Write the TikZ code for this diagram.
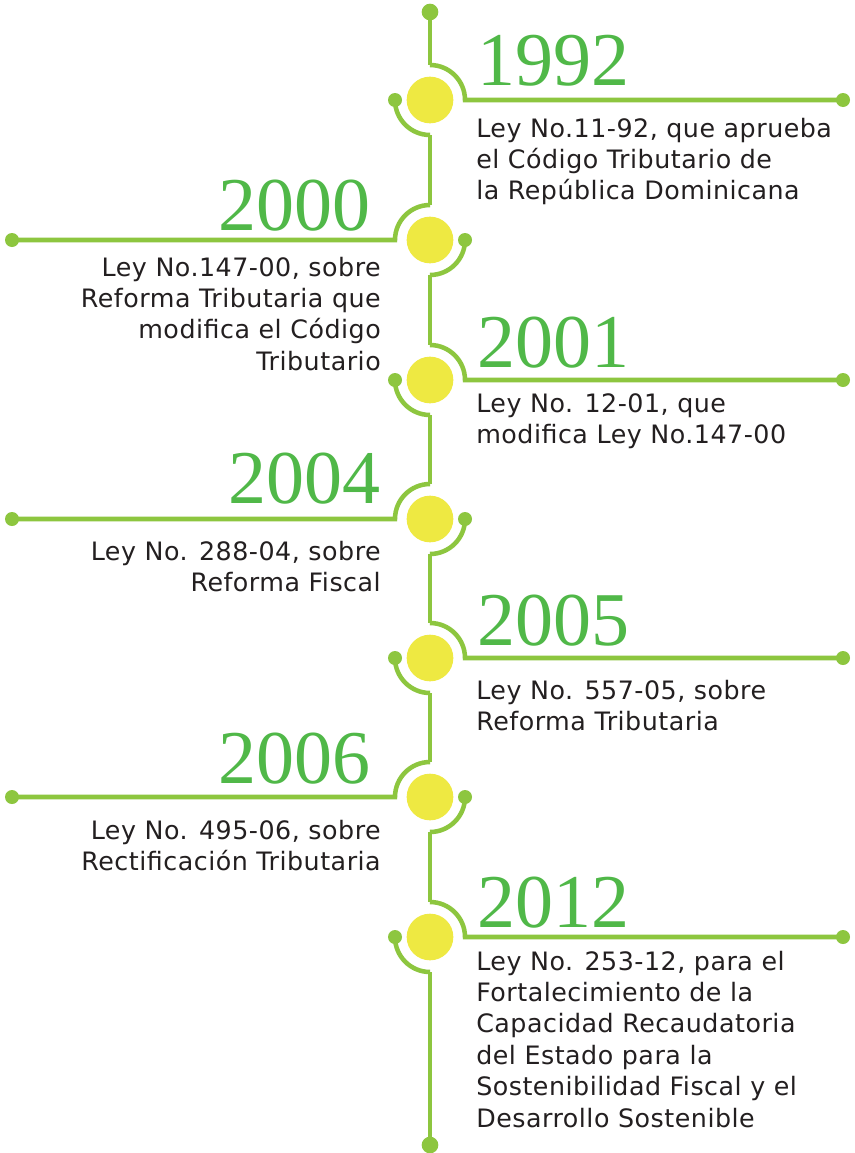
\documentclass[tikz,border=0pt]{standalone}
\usepackage{fontspec}
\newfontfamily\bodyfont[LetterSpace=2]{DejaVu Sans}
\newfontfamily\yearfont{Liberation Serif}
\definecolor{lineg}{RGB}{141,198,63}
\definecolor{yearg}{RGB}{80,184,72}
\definecolor{yel}{RGB}{238,233,66}
\definecolor{txt}{RGB}{35,31,32}
\newcommand\LLines[1]{\vtop{\baselineskip=23.6pt\halign{##\hfil\cr#1\crcr}}}
\newcommand\RLines[1]{\vtop{\baselineskip=23.6pt\halign{\hfil##\cr#1\crcr}}}
\tikzset{
  tl/.style={draw=lineg, line width=3.4pt},
  hub/.style={circle, fill=yel, minimum size=35pt, inner sep=0pt},
  tdot/.style={circle, fill=lineg, minimum size=10.5pt, inner sep=0pt},
  enddot/.style={tdot, minimum size=12.5pt},
  year/.style={text=yearg, font=\yearfont\fontsize{57}{57}\selectfont, inner sep=0pt},
  desc/.style={text=txt, font=\bodyfont\fontsize{19}{22}\selectfont, inner sep=0pt}
}
% right-hand event: name, y
\newcommand\evRight[2]{%
  \node[hub] (#1) at (430,#2) {};
  \coordinate (#1n) at (430,#2-35);
  \coordinate (#1s) at (430,#2+35);
  \node[tdot] (#1a) at (395,#2) {};
  \node[tdot] (#1b) at (843,#2) {};
  \draw[tl] (#1n) arc[start angle=-90,end angle=0,radius=35] -- (#1b.center);
  \draw[tl] (#1a.center) arc[start angle=180,end angle=90,radius=35];
}
% left-hand event: name, y
\newcommand\evLeft[2]{%
  \node[hub] (#1) at (430,#2) {};
  \coordinate (#1n) at (430,#2-35);
  \coordinate (#1s) at (430,#2+35);
  \node[tdot] (#1a) at (465,#2) {};
  \node[tdot] (#1b) at (12,#2) {};
  \draw[tl] (#1n) arc[start angle=-90,end angle=-180,radius=35] -- (#1b.center);
  \draw[tl] (#1a.center) arc[start angle=0,end angle=90,radius=35];
}
\begin{document}
\begin{tikzpicture}[x=0.75pt,y=-0.75pt]
\useasboundingbox (0,0) rectangle (855,1153);
\fill[white] (0,0) rectangle (855,1153);

\node[enddot] (top) at (430,12) {};
\node[enddot] (bot) at (430,1145) {};

\evRight{e1}{100}
\evLeft{e2}{240}
\evRight{e3}{380}
\evLeft{e4}{519}
\evRight{e5}{658}
\evLeft{e6}{797}
\evRight{e7}{937}

\draw[tl] (top.center) -- (e1n);
\draw[tl] (e1s) -- (e2n);
\draw[tl] (e2s) -- (e3n);
\draw[tl] (e3s) -- (e4n);
\draw[tl] (e4s) -- (e5n);
\draw[tl] (e5s) -- (e6n);
\draw[tl] (e6s) -- (e7n);
\draw[tl] (e7s) -- (bot.center);

\node[year, anchor=base west] (y1) at (477,85) {1992};
\node[year, anchor=base east] (y2) at (371,230) {2000};
\node[year, anchor=base west] (y3) at (477,367) {2001};
\node[year, anchor=base east] (y4) at (381,503) {2004};
\node[year, anchor=base west] (y5) at (477,645) {2005};
\node[year, anchor=base east] (y6) at (371,783) {2006};
\node[year, anchor=base west] (y7) at (477,927) {2012};

\node[desc, anchor=base west] (t1) at (476,137) {\LLines{Ley No.11-92, que aprueba\cr el Código Tributario de\cr la República Dominicana}};
\node[desc, anchor=base east] (t2) at (381,276) {\RLines{Ley No.147-00, sobre\cr Reforma Tributaria que\cr modifica el Código\cr Tributario}};
\node[desc, anchor=base west] (t3) at (476,412) {\LLines{Ley No. 12-01, que\cr modifica Ley No.147-00}};
\node[desc, anchor=base east] (t4) at (381,560) {\RLines{Ley No. 288-04, sobre\cr Reforma Fiscal}};
\node[desc, anchor=base west] (t5) at (476,699) {\LLines{Ley No. 557-05, sobre\cr Reforma Tributaria}};
\node[desc, anchor=base east] (t6) at (381,839) {\RLines{Ley No. 495-06, sobre\cr Rectificación Tributaria}};
\node[desc, anchor=base west] (t7) at (476,970) {\LLines{Ley No. 253-12, para el\cr Fortalecimiento de la\cr Capacidad Recaudatoria\cr del Estado para la\cr Sostenibilidad Fiscal y el\cr Desarrollo Sostenible}};
\end{tikzpicture}
\end{document}
